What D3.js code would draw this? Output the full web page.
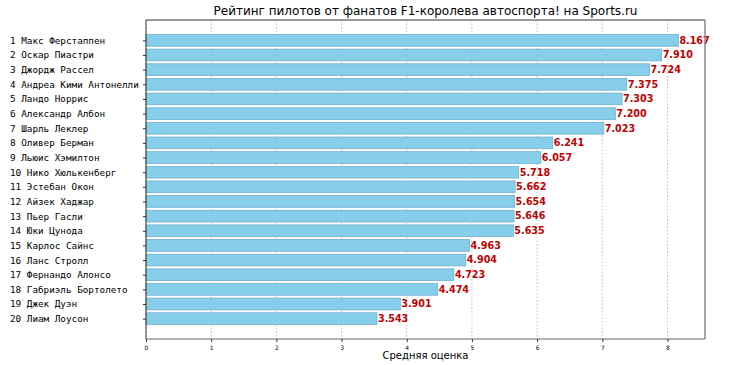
<!DOCTYPE html>
<html><head><meta charset="utf-8">
<script src="https://cdn.jsdelivr.net/npm/d3@7/dist/d3.min.js"></script>
<style>body{margin:0;background:#fff;} svg{display:block;}</style>
</head><body><svg id="c" width="730" height="365"></svg>
<script>
const drivers = ["1 Макс Ферстаппен","2 Оскар Пиастри","3 Джордж Рассел","4 Андреа Кими Антонелли","5 Ландо Норрис","6 Александр Албон","7 Шарль Леклер","8 Оливер Берман","9 Льюис Хэмилтон","10 Нико Хюлькенберг","11 Эстебан Окон","12 Айзек Хаджар","13 Пьер Гасли","14 Юки Цунода","15 Карлос Сайнс","16 Ланс Стролл","17 Фернандо Алонсо","18 Габриэль Бортолето","19 Джек Дуэн","20 Лиам Лоусон"];
const ratings = [8.167,7.910,7.724,7.375,7.303,7.200,7.023,6.241,6.057,5.718,5.662,5.654,5.646,5.635,4.963,4.904,4.723,4.474,3.901,3.543];
const xTicks = [0,1,2,3,4,5,6,7,8];
const title = "Рейтинг пилотов от фанатов F1-королева автоспорта! на Sports.ru";
const xLabel = "Средняя оценка";

const svg = d3.select("#c");
const L = 146, R = 705, T = 20, B = 339;
const x = d3.scaleLinear().domain([0, d3.max(ratings) * 1.05]).range([L, R]);
const n = drivers.length;
const y = d3.scaleLinear().domain([-1.39, n - 1 + 1.39]).range([T, B]);
const bh = 0.8;

// grid
svg.append("g").selectAll("line").data(xTicks).join("line")
  .attr("x1", d => x(d)).attr("x2", d => x(d)).attr("y1", T).attr("y2", B)
  .attr("stroke", "#b0b0b0").attr("stroke-width", 0.8).attr("stroke-dasharray", "1.5,2");

// bars
svg.append("g").selectAll("rect").data(ratings).join("rect")
  .attr("x", x(0)).attr("y", (d, i) => y(i - bh / 2))
  .attr("width", d => x(d) - x(0)).attr("height", (d, i) => y(i + bh / 2) - y(i - bh / 2))
  .attr("fill", "#87CEEB").attr("stroke", "#6fb0cf").attr("stroke-width", 0.8);

// value labels
svg.append("g").selectAll("text").data(ratings).join("text")
  .attr("x", d => x(d) + 1).attr("y", (d, i) => y(i))
  .attr("dy", "0.35em")
  .attr("font-family", "DejaVu Sans").attr("font-weight", "bold").attr("font-size", 9.6)
  .attr("fill", "#c00000")
  .text(d => d.toFixed(3));

// axes frame
svg.append("line").attr("x1", L).attr("x2", R).attr("y1", T).attr("y2", T).attr("stroke", "#333").attr("stroke-width", 1);
svg.append("line").attr("x1", L).attr("x2", L).attr("y1", T).attr("y2", B).attr("stroke", "#333").attr("stroke-width", 1);
svg.append("line").attr("x1", R).attr("x2", R).attr("y1", T).attr("y2", B).attr("stroke", "#888").attr("stroke-width", 1.5);
svg.append("line").attr("x1", L).attr("x2", R).attr("y1", B).attr("y2", B).attr("stroke", "#666").attr("stroke-width", 1.2);

// x axis
const xa = svg.append("g").attr("transform", `translate(0,${B})`)
  .call(d3.axisBottom(x).tickValues(xTicks).tickSize(3).tickFormat(d3.format("d")));
xa.select(".domain").remove();
xa.selectAll("line").attr("stroke", "#333");
xa.selectAll("text").attr("font-family", "DejaVu Sans").attr("font-size", 6).attr("fill", "#000").attr("dy", "0.9em");

// y axis (ticks) + left-aligned labels
const yb = d3.scaleOrdinal().domain(drivers).range(drivers.map((d, i) => y(i)));
const ya = svg.append("g").attr("transform", `translate(${L},0)`)
  .call(d3.axisLeft(yb).tickSize(3));
ya.select(".domain").remove();
ya.selectAll("line").attr("stroke", "#333");
ya.selectAll("text")
  .attr("text-anchor", "start").attr("x", 10 - L)
  .attr("font-family", "DejaVu Sans Mono").attr("font-size", 9.3).attr("fill", "#000");

// title & label
svg.append("text").attr("x", (L + R) / 2).attr("y", 15).attr("text-anchor", "middle")
  .attr("font-family", "DejaVu Sans").attr("font-size", 12).attr("fill", "#000").text(title);
svg.append("text").attr("x", (L + R) / 2).attr("y", 359).attr("text-anchor", "middle")
  .attr("font-family", "DejaVu Sans").attr("font-size", 10).attr("fill", "#000").text(xLabel);
</script></body></html>
